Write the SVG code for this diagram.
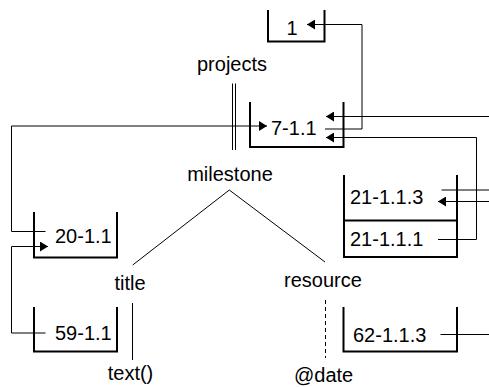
<svg xmlns="http://www.w3.org/2000/svg" width="489" height="387" viewBox="0 0 489 387">
  <style>
    .box { fill: none; stroke: #000; stroke-width: 2; }
    .lbl { font-family: "Liberation Sans", Arial, sans-serif; font-size: 20px; fill: #000; }
    .mid { text-anchor: middle; }
    .wire { fill: none; stroke: #000; stroke-width: 1; }
    .tree { fill: none; stroke: #000; stroke-width: 1; }
  </style>
  <defs>
    <marker id="ah" viewBox="0 0 8 10" refX="8" refY="5" markerWidth="8" markerHeight="10" orient="auto" markerUnits="userSpaceOnUse">
      <path d="M0,0 L8,5 L0,10 z" fill="#000"/>
    </marker>
  </defs>

  <!-- element names of the tree -->
  <g id="tree">
    <text class="lbl mid" x="232" y="71">projects</text>
    <line class="tree" x1="232.5" y1="83.5" x2="232.5" y2="150"/>
    <line class="tree" x1="235.5" y1="83.5" x2="235.5" y2="150"/>
    <text class="lbl mid" x="230" y="180.5">milestone</text>
    <line class="tree" x1="229.3" y1="190" x2="132.7" y2="265"/>
    <line class="tree" x1="229.3" y1="190" x2="325" y2="262"/>
    <text class="lbl mid" x="130" y="290">title</text>
    <line class="tree" x1="132.5" y1="303" x2="132.5" y2="360"/>
    <text class="lbl mid" x="130.5" y="380">text()</text>
    <text class="lbl" x="284" y="287">resource</text>
    <line class="tree" x1="325.5" y1="300" x2="325.5" y2="358" stroke="#555" stroke-dasharray="4,3"/>
    <text class="lbl" x="294" y="382">@date</text>
  </g>

  <!-- storage buckets -->
  <g id="node-1">
    <path class="box" d="M268,10 V41.5 H324.5 V10"/>
    <text class="lbl" x="286.5" y="34.5">1</text>
  </g>
  <g id="node-7-1.1">
    <path class="box" d="M250,102 V147 H343.5 V102"/>
    <text class="lbl" x="271" y="135">7-1.1</text>
  </g>
  <g id="node-21">
    <path class="box" d="M344,175 V257 H457 V175"/>
    <line class="box" x1="344" y1="220.5" x2="457" y2="220.5"/>
    <text class="lbl" x="350" y="204.3">21-1.1.3</text>
    <text class="lbl" x="350" y="246">21-1.1.1</text>
  </g>
  <g id="node-20-1.1">
    <path class="box" d="M34,212 V257.5 H117 V212"/>
    <text class="lbl" x="55" y="243">20-1.1</text>
  </g>
  <g id="node-59-1.1">
    <path class="box" d="M34,307 V351.5 H117 V307"/>
    <text class="lbl" x="55" y="340">59-1.1</text>
  </g>
  <g id="node-62-1.1.3">
    <path class="box" d="M343.5,307 V351.5 H457 V307"/>
    <text class="lbl" x="353" y="341.7">62-1.1.3</text>
  </g>

  <!-- pointers between buckets -->
  <g id="connectors">
    <path class="wire" d="M325,129 H362 V24.5 H307" marker-end="url(#ah)"/>
    <path class="wire" d="M489,116.5 H326" marker-end="url(#ah)"/>
    <path class="wire" d="M438,239.5 H476.5 V137.5 H326" marker-end="url(#ah)"/>
    <path class="wire" d="M45.5,231.5 H11.5 V126 H267" marker-end="url(#ah)"/>
    <path class="wire" d="M45.5,333 H11.5 V246.5 H48" marker-end="url(#ah)"/>
    <path class="wire" d="M441.5,190 H489"/>
    <path class="wire" d="M489,201.5 H438" marker-end="url(#ah)"/>
    <path class="wire" d="M440.5,334.5 H489"/>
  </g>
</svg>
